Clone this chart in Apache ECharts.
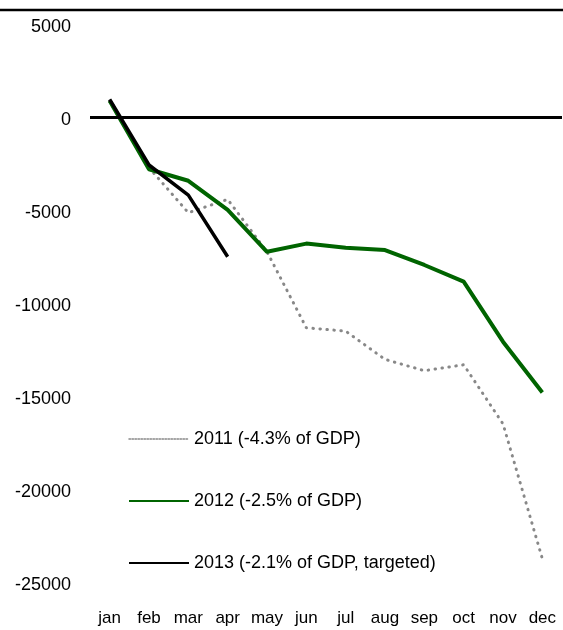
<!DOCTYPE html>
<html>
<head>
<meta charset="utf-8">
<script src="https://cdn.jsdelivr.net/npm/echarts@6/dist/echarts.min.js"></script>
<style>
  html, body { margin: 0; padding: 0; background: #fff; }
  #chart { width: 563px; height: 630px; }
</style>
</head>
<body>
<div id="chart"></div>
<script>
// months on the x axis
var months = ['jan', 'feb', 'mar', 'apr', 'may', 'jun', 'jul', 'aug', 'sep', 'oct', 'nov', 'dec'];

// cumulative balance
var y2011 = [850, -2700, -5130, -4410, -7230, -11320, -11500, -13020, -13630, -13310, -16490, -23750];
var y2012 = [900, -2790, -3410, -4980, -7230, -6790, -7010, -7140, -7940, -8840, -12070, -14800];
var y2013 = [975, -2560, -4180, -7500];

var names = ['2011 (-4.3% of GDP)', '2012 (-2.5% of GDP)', '2013 (-2.1% of GDP, targeted)'];

var chart = echarts.init(document.getElementById('chart'));

var font = '"Liberation Sans", Arial, sans-serif';

var option = {
  backgroundColor: '#fff',
  animation: false,
  textStyle: { fontFamily: font },
  grid: { left: 90, right: 1, top: 24.5, bottom: 48, containLabel: false },
  legend: {
    orient: 'vertical',
    left: 123,
    top: 425,
    itemWidth: 60,
    itemHeight: 20,
    itemGap: 44,
    itemStyle: { opacity: 0, borderWidth: 0 },
    textStyle: { fontSize: 18, color: '#000', fontFamily: font },
    data: [
      { name: names[0], lineStyle: { width: 1.5, type: [1.5, 1.5], color: '#888' } },
      { name: names[1], lineStyle: { width: 2, type: 'solid' } },
      { name: names[2], lineStyle: { width: 2, type: 'solid' } }
    ]
  },
  xAxis: {
    type: 'category',
    data: months,
    boundaryGap: true,
    axisLine: { show: false, onZero: false },
    axisTick: { show: false },
    axisLabel: { fontSize: 17, color: '#000', margin: 28, interval: 0, fontFamily: font },
    splitLine: { show: false }
  },
  yAxis: {
    type: 'value',
    min: -25000,
    max: 5000,
    interval: 5000,
    axisLine: { show: false },
    axisTick: { show: false },
    splitLine: { show: false },
    axisLabel: {
      fontSize: 18, color: '#000', margin: 19, fontFamily: font,
      verticalAlign: 'top',
      lineHeight: 6,
      formatter: function (v) { return String(v); }
    }
  },
  graphic: [
    {
      type: 'line',
      shape: { x1: 0, y1: 10, x2: 563, y2: 10 },
      style: { stroke: '#000', lineWidth: 2.5 }
    }
  ],
  series: [
    {
      name: names[0],
      type: 'line',
      data: y2011,
      symbol: 'none',
      lineStyle: { color: '#888', width: 3, type: [0.5, 6.5], cap: 'round' },
      itemStyle: { color: '#888' },
      z: 2
    },
    {
      name: names[1],
      type: 'line',
      data: y2012,
      symbol: 'none',
      lineStyle: { color: '#006400', width: 4 },
      itemStyle: { color: '#006400' },
      z: 3,
      markLine: {
        silent: true,
        symbol: 'none',
        label: { show: false },
        lineStyle: { color: '#000', width: 3, type: 'solid' },
        data: [{ yAxis: 0 }]
      }
    },
    {
      name: names[2],
      type: 'line',
      data: y2013,
      symbol: 'none',
      lineStyle: { color: '#000', width: 3.5 },
      itemStyle: { color: '#000' },
      z: 4
    }
  ]
};

chart.setOption(option);
</script>
</body>
</html>
